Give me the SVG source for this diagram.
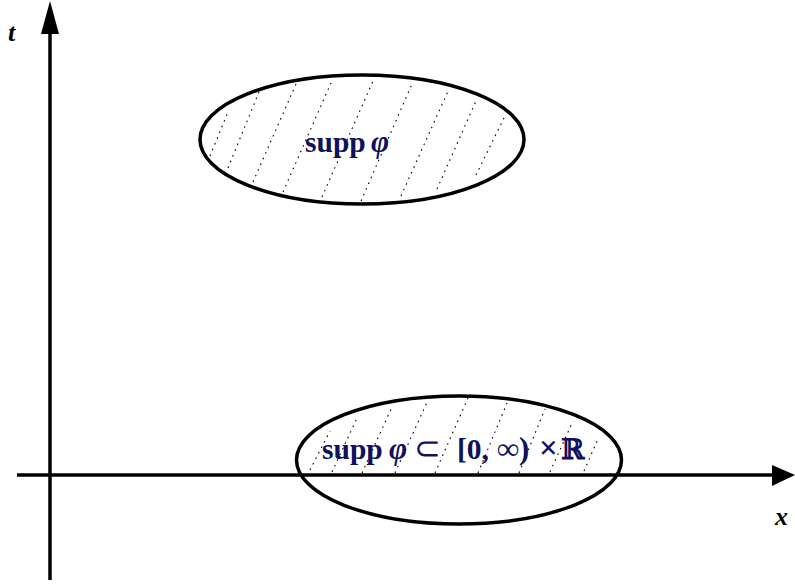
<svg xmlns="http://www.w3.org/2000/svg" width="795" height="586" viewBox="0 0 795 586">
<style>
.ell{fill:none;stroke:#000;stroke-width:3.5}
.hatch line{stroke:#000;stroke-width:1.1;stroke-dasharray:1.6 4.6;fill:none}
.axis{stroke:#000;stroke-width:3.5;fill:none}
.lbl{font-family:"Liberation Serif","Times New Roman",serif;font-weight:bold;fill:#10105c;font-size:29.5px}
.ax{font-family:"Liberation Serif","Times New Roman",serif;font-weight:bold;font-style:italic;fill:#000;font-size:26px}
.it{font-style:italic;font-size:31px}
</style>
<rect width="795" height="586" fill="#fff"/>
<g id="connectors">
  <line class="axis" x1="50" y1="30" x2="50" y2="580"/>
  <polygon points="50,1 41,34 59,34" fill="#000"/>
  <line class="axis" x1="17" y1="475" x2="774" y2="475"/>
  <polygon points="795,475 772,465 772,486" fill="#000"/>
</g>
<g id="label-t"><text class="ax" x="8" y="41">t</text></g>
<g id="label-x"><text class="ax" x="775" y="525">x</text></g>
<g id="supp-top">
  <g class="hatch">
    <line x1="210" y1="156" x2="228" y2="112"/>
    <line x1="228" y1="168" x2="259" y2="92"/>
    <line x1="253" y1="182" x2="296" y2="84"/>
    <line x1="283" y1="192" x2="331" y2="83"/>
    <line x1="322" y1="197" x2="373" y2="81"/>
    <line x1="361" y1="201" x2="412" y2="84"/>
    <line x1="401" y1="196" x2="449" y2="89"/>
    <line x1="437" y1="189" x2="476" y2="101"/>
    <line x1="476" y1="175" x2="505" y2="116"/>
  </g>
  <ellipse class="ell" cx="362" cy="139.5" rx="162" ry="64.5"/>
  <text class="lbl" x="305" y="152">supp<tspan class="it" x="371">φ</tspan></text>
</g>
<g id="supp-bottom">
  <g class="hatch">
    <line x1="310" y1="470" x2="330" y2="431"/>
    <line x1="332" y1="472" x2="358" y2="416"/>
    <line x1="362" y1="473" x2="392" y2="407"/>
    <line x1="395" y1="473" x2="428" y2="400"/>
    <line x1="435" y1="473" x2="468" y2="398"/>
    <line x1="478" y1="473" x2="507" y2="403"/>
    <line x1="519" y1="473" x2="545" y2="409"/>
    <line x1="550" y1="472" x2="573" y2="421"/>
    <line x1="584" y1="471" x2="598" y2="439"/>
  </g>
  <ellipse class="ell" cx="459" cy="460" rx="162.5" ry="64"/>
  <text class="lbl" x="322" y="459">supp<tspan class="it" x="389">φ</tspan><tspan x="414" font-weight="normal" font-size="32">⊂</tspan><tspan x="457">[0,</tspan><tspan x="497" font-size="31">∞)</tspan><tspan x="539" font-size="33">×</tspan><tspan x="561" font-family="'DejaVu Serif',serif" font-size="28">ℝ</tspan></text>
</g>
</svg>
